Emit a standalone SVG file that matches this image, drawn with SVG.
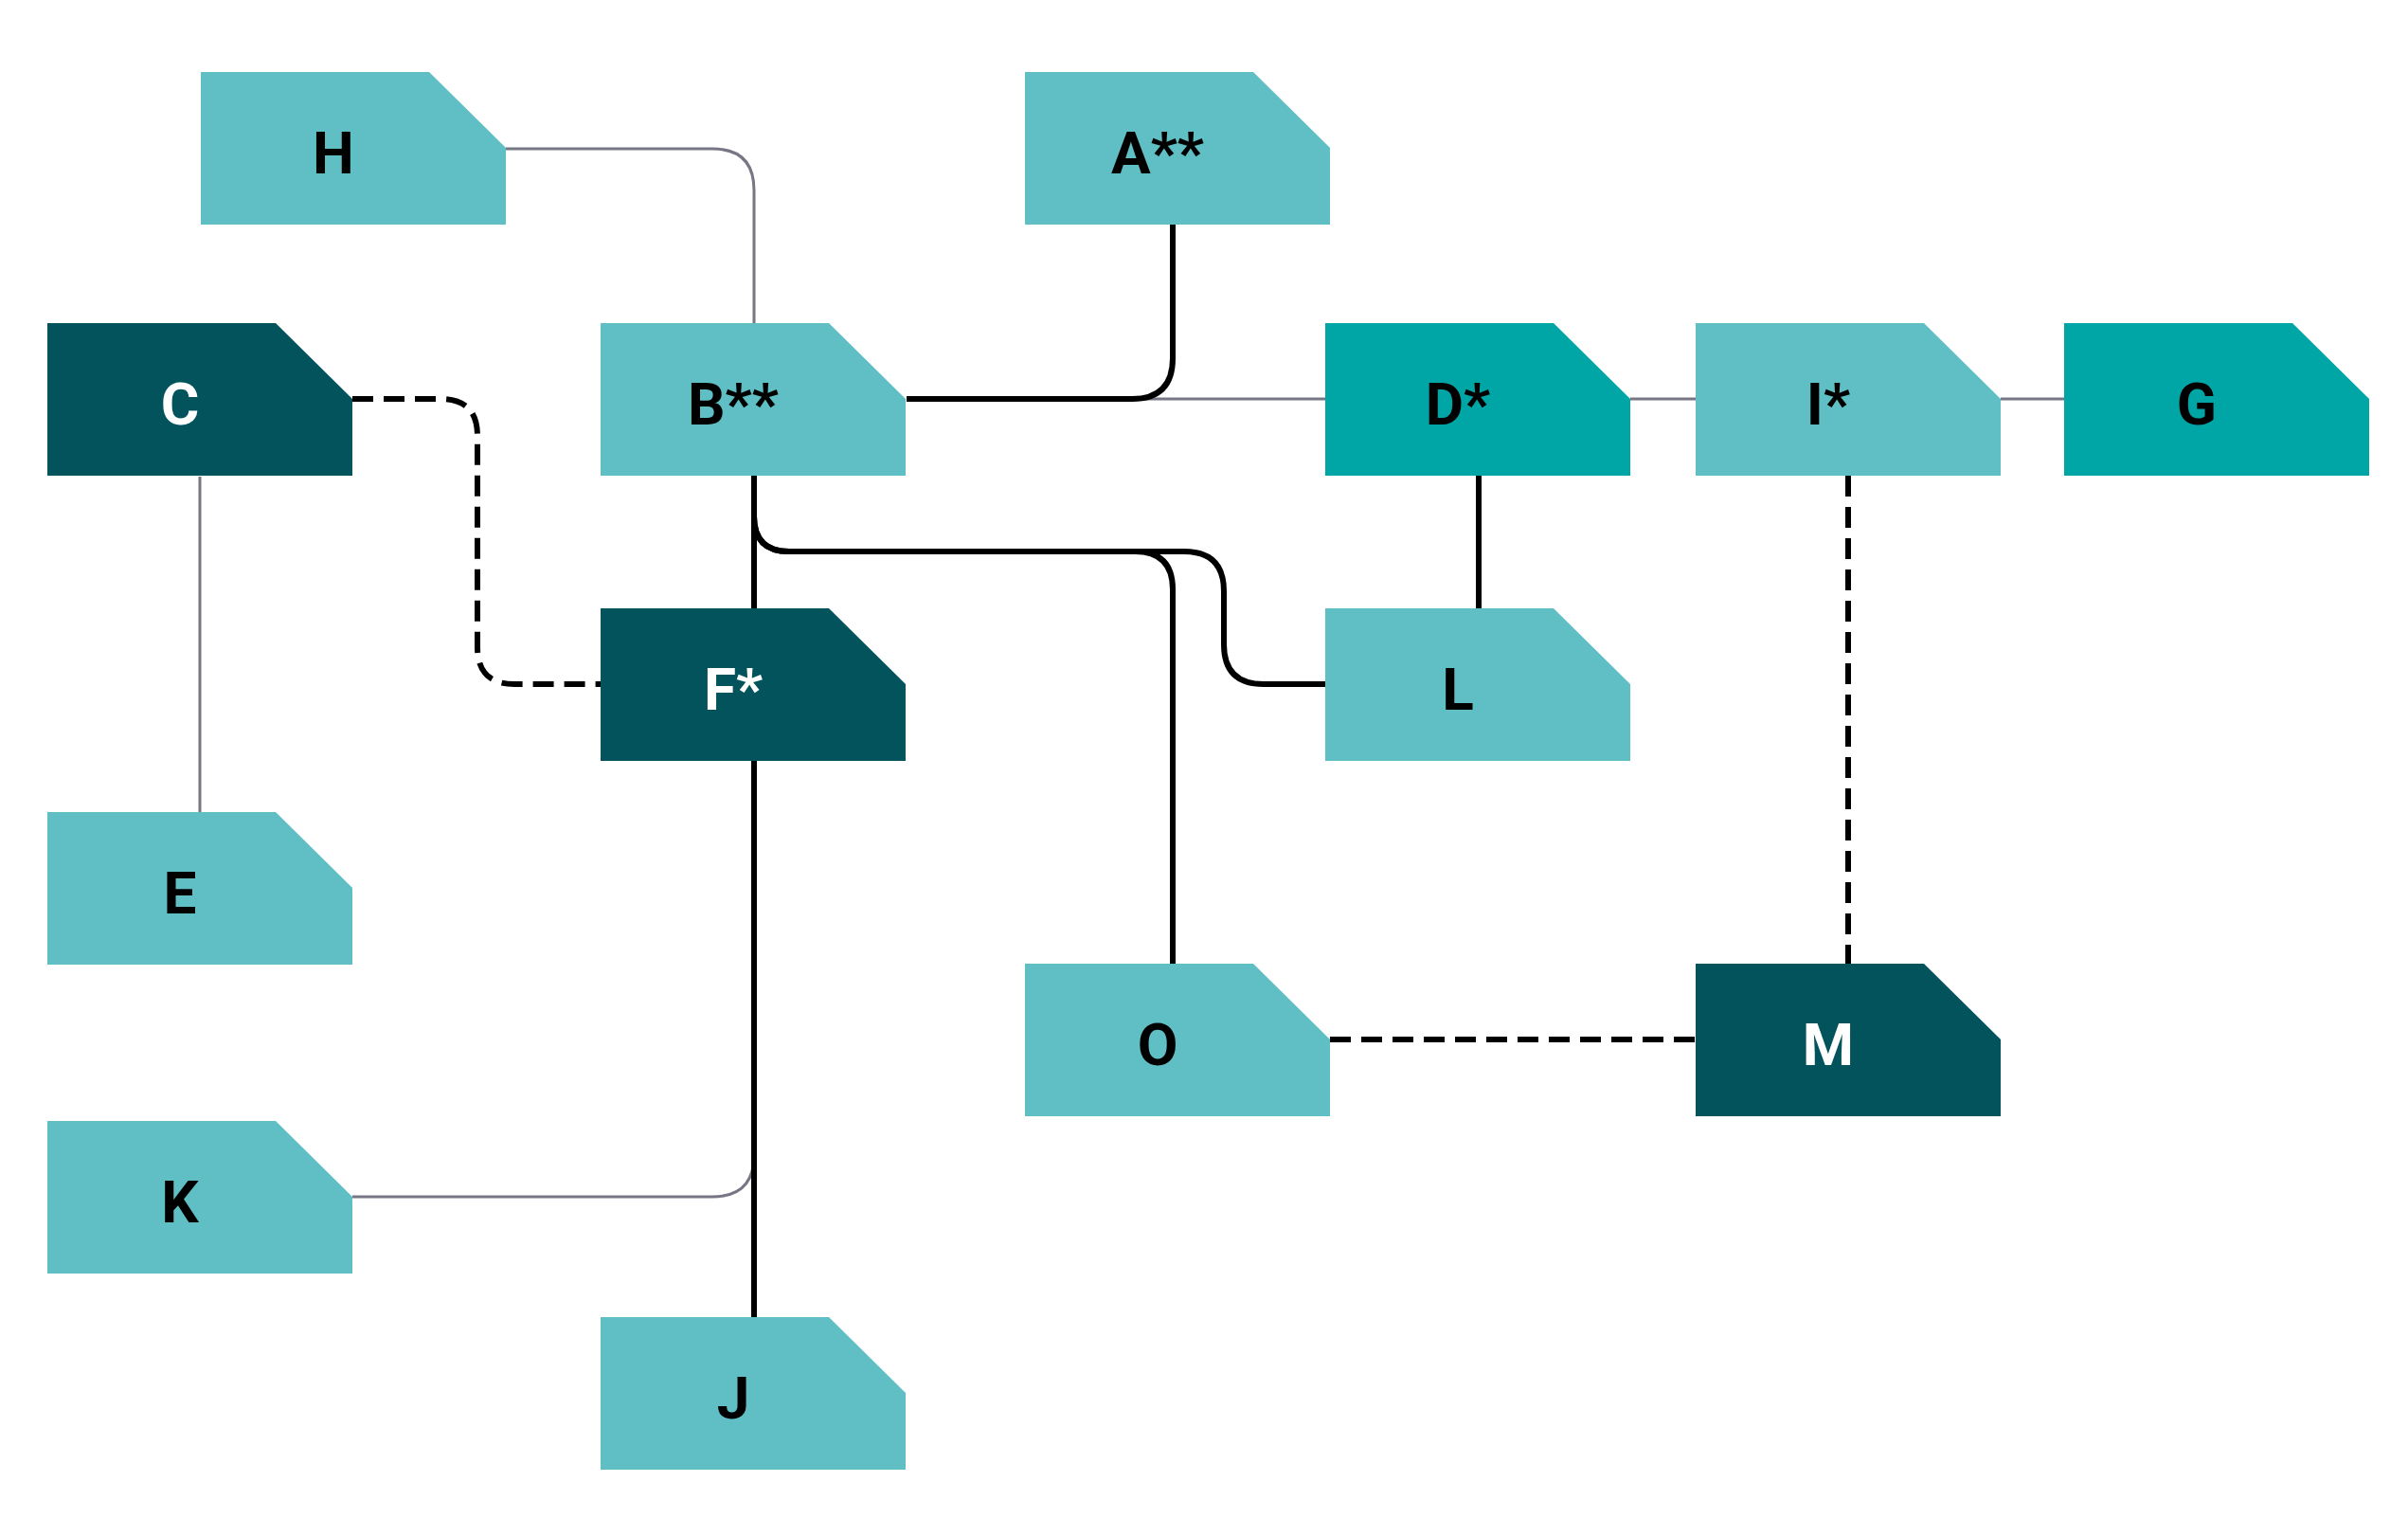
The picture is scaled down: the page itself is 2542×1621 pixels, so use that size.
<svg xmlns="http://www.w3.org/2000/svg" width="2542" height="1621" viewBox="0 0 2542 1621">
<style>
.l{fill:#5FBFC4}.t{fill:#00A5A6}.d{fill:#02535C}
text{font-family:"Roboto","Liberation Sans",sans-serif;font-weight:700;font-size:62px;text-anchor:middle;fill:#000}
.w{fill:#fff}
.g{fill:none;stroke:#777684;stroke-width:3}
.b{fill:none;stroke:#000;stroke-width:6}
.k{fill:none;stroke:#000;stroke-width:6;stroke-dasharray:22 11}
</style>
<defs><path id="s" d="M0,0H241L322,80V161H0Z"/></defs>
<g id="connectors">
<path class="g" d="M534,157H752Q796,157 796,201V341"/>
<path class="g" d="M211,503V857"/>
<path class="g" d="M957,421H1399"/>
<path class="g" d="M1721,421H1790"/>
<path class="g" d="M2112,421H2179"/>
<path class="g" d="M372,1263H752Q796,1263 796,1219"/>
<path class="b" d="M1238,237V378Q1238,421 1195,421H957"/>
<path class="b" d="M796,502V642"/>
<path class="b" d="M796,803V1390"/>
<path class="b" d="M796,502V545Q796,582 833,582H1198Q1238,582 1238,622V1017"/>
<path class="b" d="M796,545Q796,582 833,582H1250Q1292,582 1292,624V680Q1292,722 1334,722H1399"/>
<path class="b" d="M1561,502V642"/>
<path class="k" d="M372,421H465Q504,421 504,460V683Q504,722 543,722H634"/>
<path class="k" d="M1951,502V1017"/>
<path class="k" d="M1404,1097H1790"/>
</g>
<g id="H" transform="translate(212,76)"><use href="#s" class="l"/><text x="140" y="107">H</text></g>
<g id="A" transform="translate(1082,76)"><use href="#s" class="l"/><text x="140" y="107">A**</text></g>
<g id="C" transform="translate(50,341)"><use href="#s" class="d"/><text class="w" x="140" y="107">C</text></g>
<g id="B" transform="translate(634,341)"><use href="#s" class="l"/><text x="140" y="107">B**</text></g>
<g id="D" transform="translate(1399,341)"><use href="#s" class="t"/><text x="140" y="107">D*</text></g>
<g id="I" transform="translate(1790,341)"><use href="#s" class="l"/><text x="140" y="107">I*</text></g>
<g id="G" transform="translate(2179,341)"><use href="#s" class="t"/><text x="140" y="107">G</text></g>
<g id="F" transform="translate(634,642)"><use href="#s" class="d"/><text class="w" x="140" y="107">F*</text></g>
<g id="L" transform="translate(1399,642)"><use href="#s" class="l"/><text x="140" y="107">L</text></g>
<g id="E" transform="translate(50,857)"><use href="#s" class="l"/><text x="140" y="107">E</text></g>
<g id="O" transform="translate(1082,1017)"><use href="#s" class="l"/><text x="140" y="107">O</text></g>
<g id="M" transform="translate(1790,1017)"><use href="#s" class="d"/><text class="w" x="140" y="107">M</text></g>
<g id="K" transform="translate(50,1183)"><use href="#s" class="l"/><text x="140" y="107">K</text></g>
<g id="J" transform="translate(634,1390)"><use href="#s" class="l"/><text x="140" y="107">J</text></g>
</svg>
